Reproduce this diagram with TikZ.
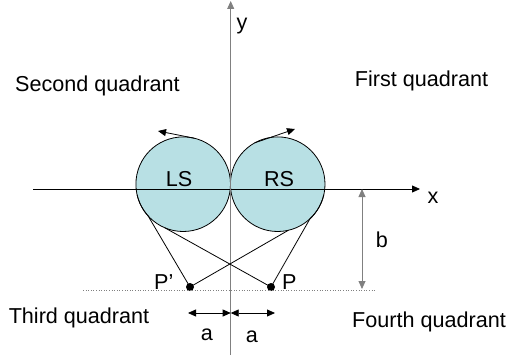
\documentclass[tikz,border=0pt]{standalone}
\usepackage{fontspec}
\setmainfont{Liberation Sans}
\usetikzlibrary{arrows.meta}
\definecolor{pulleyfill}{RGB}{184,224,228}
\definecolor{axisgray}{RGB}{128,128,128}
\begin{document}
\begin{tikzpicture}[x=1pt,y=1pt,
  every node/.style={font=\fontsize{21.6}{26}\selectfont},
  pulley/.style={circle,draw=black,line width=0.8pt,fill=pulleyfill,minimum size=94.6pt,inner sep=0pt,outer sep=0pt},
  lbl/.style={anchor=base,inner sep=0pt},
  tip/.style={-{Triangle[length=8pt,width=7pt]}},
  tips/.style={{Triangle[length=8pt,width=7pt]}-{Triangle[length=8pt,width=7pt]}},
  belt/.style={line width=0.8pt},
  dot/.style={circle,fill=black,minimum size=8pt,inner sep=0pt}]
\useasboundingbox (0,0) rectangle (511,362);
% pulleys
\node[pulley] (LS) at (183.2,177.8) {};
\node[pulley] (RS) at (277.7,177.8) {};
\node[lbl] (LSt) at (179,175.3) {LS};
\node[lbl] (RSt) at (279,175.3) {RS};
% axes
\coordinate (xs) at (33,173);
\coordinate (xe) at (420,173);
\coordinate (ys) at (230.7,7);
\coordinate (ye) at (230.7,361);
\draw[tip,line width=0.8pt] (xs) -- (xe);
\draw[tip,draw=axisgray,line width=0.8pt] (ys) -- (ye);
\node[lbl] (xl) at (433,159) {x};
\node[lbl] (yl) at (242,332) {y};
% quadrant labels
\node[lbl] (q2) at (97.5,270) {Second quadrant};
\node[lbl] (q1) at (421.5,275) {First quadrant};
\node[lbl] (q3) at (79,39) {Third quadrant};
\node[lbl] (q4) at (429,35) {Fourth quadrant};
% points
\node[dot] (Pp) at (190,75) {};
\node[dot] (P) at (271,75) {};
\node[lbl,anchor=base west] (Ppl) at (154,72.7) {P’};
\node[lbl,anchor=base west] (Pl) at (282,72.7) {P};
% dotted level line
\coordinate (d1) at (83,72);
\coordinate (d2) at (375,72);
\draw[dotted,draw=axisgray,line width=0.6pt] (d1) -- (d2);
% belts
\draw[belt] (LS.193) arc[start angle=193,end angle=222,radius=47.3pt] -- (Pp.center);
\draw[belt] (LS.247.7) -- (P.center);
\draw[belt] (Pp.center) -- (RS.283.5);
\draw[belt] (P.center) -- (RS.313) arc[start angle=313,end angle=347,radius=47.3pt];
% rotation arrows
\coordinate (la) at (158,231);
\coordinate (ra) at (295,233);
\draw[tip,belt] (LS.76) -- (la);
\draw[tip,belt] (RS.119) -- (ra);
% b dimension
\coordinate (b1) at (362,173);
\coordinate (b2) at (362,73);
\draw[tips,draw=axisgray,line width=0.8pt] (b1) -- (b2);
\node[lbl] (bl) at (382,115) {b};
% a dimensions
\coordinate (a1) at (188,49);
\coordinate (a0) at (230.7,49);
\coordinate (a2) at (275,49);
\draw[tips,line width=0.8pt] (a1) -- (a0);
\draw[tips,line width=0.8pt] (a0) -- (a2);
\node[lbl] (al) at (207,22) {a};
\node[lbl] (ar) at (252,20) {a};
\end{tikzpicture}
\end{document}
